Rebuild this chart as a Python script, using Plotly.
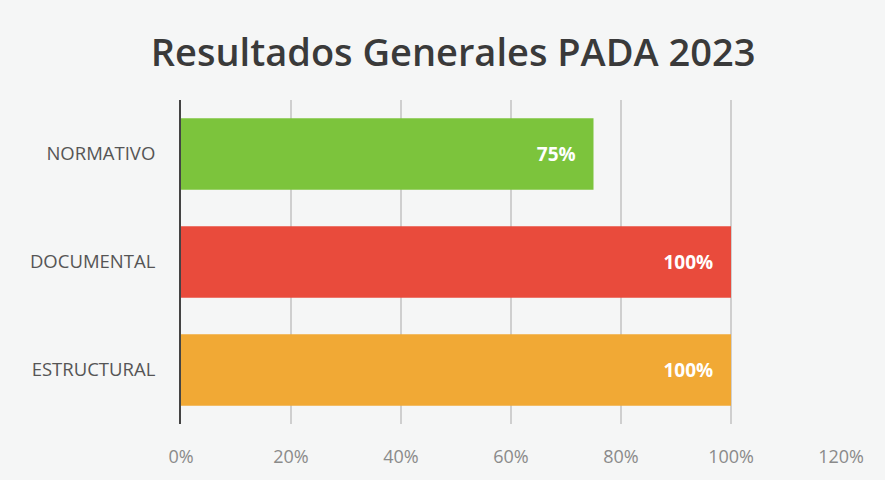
import plotly.graph_objects as go

categories = ["NORMATIVO", "DOCUMENTAL", "ESTRUCTURAL"]
values = [0.75, 1.00, 1.00]
labels = ["75%", "100%", "100%"]
colors = ["#7cc43c", "#e94b3c", "#f1a935"]
tick_vals = [0, 0.2, 0.4, 0.6, 0.8, 1.0, 1.2]
tick_text = ["0%", "20%", "40%", "60%", "80%", "100%", "120%"]

fig = go.Figure(go.Bar(
    y=categories, x=values, orientation="h",
    marker=dict(color=colors, line=dict(width=0)),
    text=labels, texttemplate="%{text}\u00a0\u00a0\u00a0",
    textposition="inside", insidetextanchor="end",
    textfont=dict(family="Open Sans", size=19, color="white", weight="bold"),
    cliponaxis=False,
))

fig.update_layout(
    width=885, height=480,
    margin=dict(l=181, r=44, t=100, b=53),
    paper_bgcolor="#f5f6f6", plot_bgcolor="rgba(0,0,0,0)",
    bargap=0.34,
    showlegend=False,
    title=dict(text="Resultados Generales PADA 2023", x=0.512, xanchor="center",
               y=0.89, yanchor="middle",
               font=dict(family="Open Sans", size=38, color="#3a3a3a", weight=600)),
    xaxis=dict(range=[0, 1.2], tickvals=tick_vals, ticktext=tick_text,
               showgrid=True, gridcolor="#cfcfcf", gridwidth=1.5, zeroline=False,
               showline=False, ticks="", ticklabelstandoff=20,
               tickfont=dict(family="Open Sans", size=18, color="#8a8a8a")),
    yaxis=dict(categoryorder="array", categoryarray=categories[::-1],
               showline=True, linecolor="#444444", linewidth=2,
               showgrid=False, ticks="", ticklabelstandoff=20,
               tickfont=dict(family="Open Sans", size=18.5, color="#555555")),
)

fig.write_html("out.html", config={"displayModeBar": False},
               post_script="document.body.style.margin='0';")
